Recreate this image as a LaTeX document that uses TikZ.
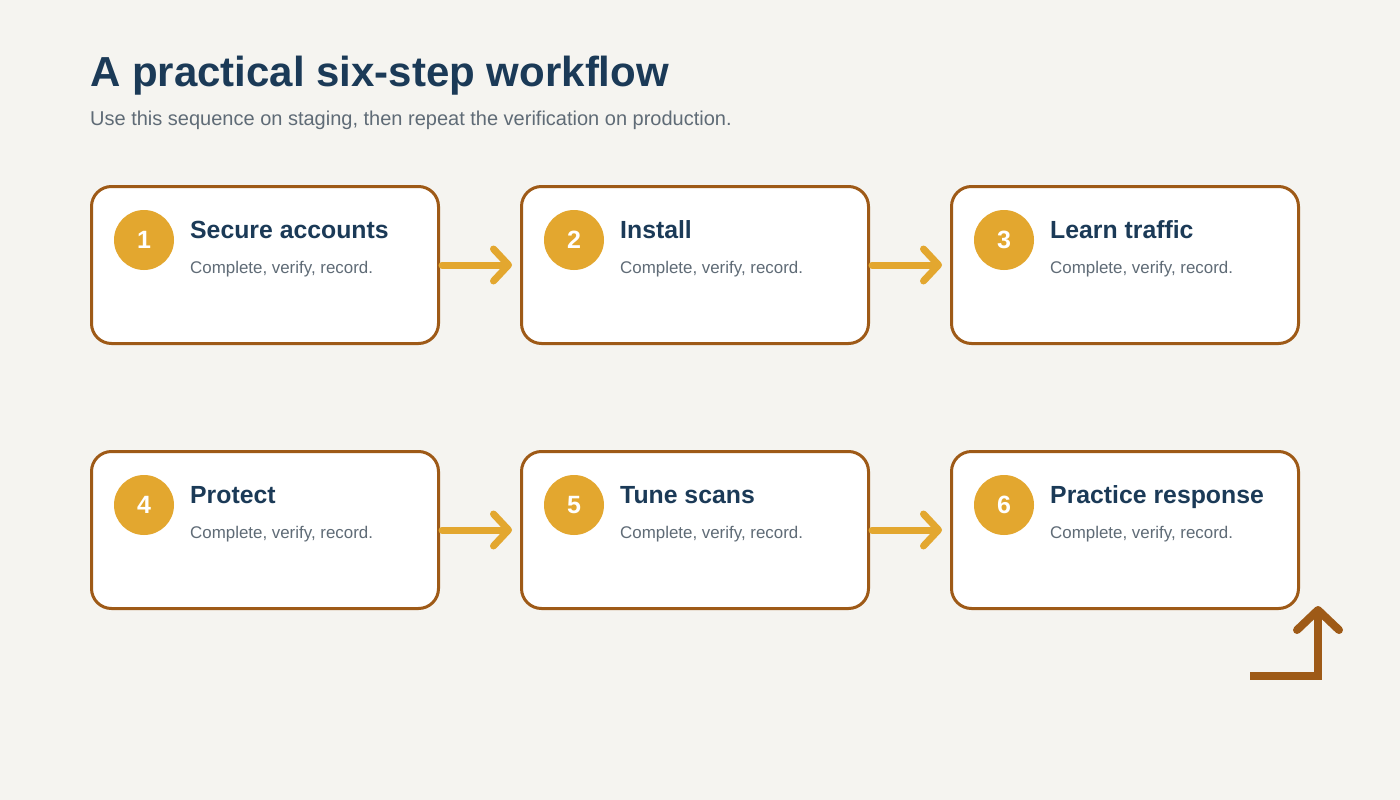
\documentclass[tikz,border=0pt]{standalone}
\usepackage{fontspec}
\setmainfont{Liberation Sans}
\usetikzlibrary{arrows.meta}
\definecolor{bg}{HTML}{F5F4F0}
\definecolor{navy}{HTML}{1B3A57}
\definecolor{grayt}{HTML}{5F6B76}
\definecolor{brown}{HTML}{9E5A17}
\definecolor{gold}{HTML}{E3A72F}
\tikzset{
  stepbox/.style={draw=brown, line width=3pt, fill=white, rounded corners=20pt,
    minimum width=347pt, minimum height=157pt, inner sep=0pt},
  badge/.style={circle, fill=gold, minimum size=60pt, inner sep=0pt,
    text=white, font=\fontsize{25}{28}\selectfont\bfseries},
  steptitle/.style={anchor=base west, inner sep=0pt, text=navy, font=\fontsize{24.8}{28}\selectfont\bfseries},
  stepsub/.style={anchor=base west, inner sep=0pt, text=grayt, font=\fontsize{16.9}{19}\selectfont},
  flow/.style={draw=gold, line width=7pt, line cap=round,
    -{Straight Barb[length=15pt, width=32pt, round]}, shorten <=2pt, shorten >=8pt},
  loopback/.style={draw=brown, line width=8pt, miter limit=10,
    -{Straight Barb[length=20pt, width=42pt, round]}}
}
\begin{document}
\begin{tikzpicture}[x=1pt, y=-1pt]
\useasboundingbox (0,0) rectangle (1400,800);
\fill[bg] (0,0) rectangle (1400,800);
\node[anchor=base west, inner sep=0pt, text=navy, font=\fontsize{42}{50}\selectfont\bfseries] (title) at (90,86) {A practical six-step workflow};
\node[anchor=base west, inner sep=0pt, text=grayt, font=\fontsize{20}{24}\selectfont] (subtitle) at (90,125) {Use this sequence on staging, then repeat the verification on production.};
% boxes
\foreach \i/\x/\y/\t in {1/265/265/Secure accounts, 2/695/265/Install, 3/1125/265/Learn traffic, 4/265/530/Protect, 5/695/530/Tune scans, 6/1125/530/Practice response}{
  \node[stepbox] (b\i) at (\x,\y) {};
  \node[badge] (c\i) at (\x-121,\y-25) {\i};
  \node[steptitle] (t\i) at (\x-75,\y-27) {\t};
  \node[stepsub] (s\i) at (\x-75,\y+8) {Complete, verify, record.};
}
\draw[flow] (b1.east) -- (b2.west);
\draw[flow] (b2.east) -- (b3.west);
\draw[flow] (b4.east) -- (b5.west);
\draw[flow] (b5.east) -- (b6.west);
\coordinate (l0) at (1250,676);
\coordinate (l1) at (1318,676);
\coordinate (l2) at (1318,606);
\draw[loopback] (l0) -- (l1) -- (l2);
\end{tikzpicture}
\end{document}
